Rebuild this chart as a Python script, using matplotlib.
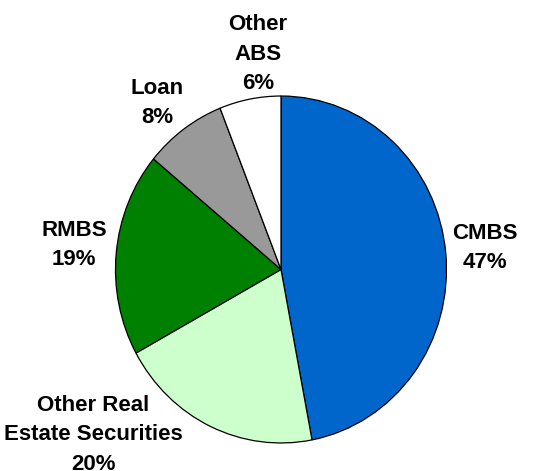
import matplotlib
matplotlib.use("Agg")
import matplotlib.pyplot as plt

# portfolio composition
labels = ["CMBS", "Other Real\nEstate Securities", "RMBS", "Loan", "Other\nABS"]
shares = [47, 20, 19, 8, 6]
colors = ["#0066CC", "#CCFFCC", "#008000", "#999999", "#FFFFFF"]

# label centres in pixels (x, y from top)
label_pos = [(485, 248), (93, 435), (74, 245), (157, 103), (258, 54)]

W, H = 549, 471
fig = plt.figure(figsize=(W / 100, H / 100), dpi=100)

# pie bbox in pixels: left, top, right, bottom
left, top, right, bottom = 115, 95.5, 447, 443.5
ax = fig.add_axes([left / W, 1 - bottom / H, (right - left) / W, (bottom - top) / H])
ax.pie(shares, colors=colors, startangle=90, counterclock=False, radius=1,
       wedgeprops=dict(edgecolor="black", linewidth=0.9))
ax.set_aspect("auto")
ax.set_xlim(-1.003, 1.003)
ax.set_ylim(-1.003, 1.003)
ax.axis("off")

for lab, val, (x, y) in zip(labels, shares, label_pos):
    fig.text(x / W, 1 - y / H, f"{lab}\n{val}%", ha="center", va="center",
             fontsize=16, fontweight="bold", family="Liberation Sans",
             linespacing=1.55)

fig.savefig("out.png", dpi=100)
